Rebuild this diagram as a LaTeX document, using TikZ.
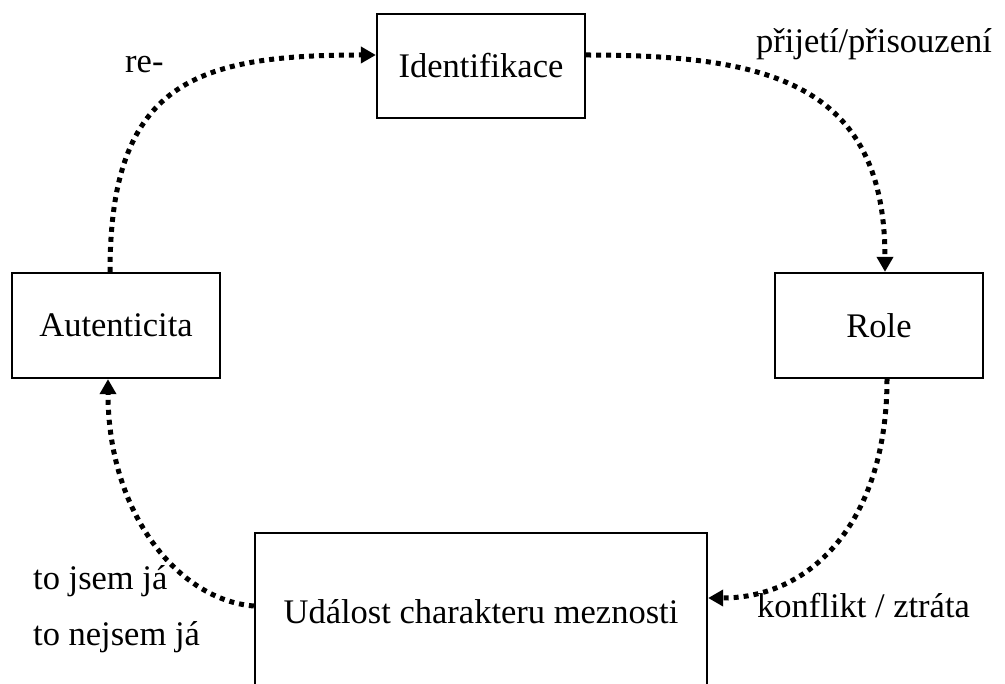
\documentclass[tikz,border=0pt]{standalone}
\usepackage{fontspec}
\setmainfont{Liberation Serif}
\usetikzlibrary{arrows.meta}
\tikzset{
  box/.style={draw, line width=2.3pt, inner sep=0pt, align=center, font=\fontsize{34.5}{40}\selectfont},
  lbl/.style={anchor=base west, inner sep=0pt, font=\fontsize{34.5}{40}\selectfont},
  flow/.style={line width=5pt, dash pattern=on 5pt off 5pt, line cap=butt,
    -{Triangle[width=16pt,length=15pt]}},
}
\begin{document}
\begin{tikzpicture}[x=1pt,y=-1pt]
\useasboundingbox (0,0) rectangle (1005,684);
\clip (0,0) rectangle (1005,684);
\node[box, minimum width=208pt, minimum height=104pt] (ident) at (481,66) {Identifikace};
\node[box, minimum width=208pt, minimum height=105pt] (aut) at (116,325.5) {Autenticita};
\node[box, minimum width=208pt, minimum height=105pt] (role) at (879,325.5) {Role};
\node[box, minimum width=452pt, minimum height=158pt] (event) at (481,612) {Událost charakteru meznosti};

\draw[flow] ([xshift=-6pt]aut.north) .. controls +(0,-190) and +(-180,0) .. ([yshift=11pt]ident.west);
\draw[flow] ([yshift=11pt]ident.east) .. controls +(180,0) and +(0,-190) .. ([xshift=6pt]role.north);
\draw[flow] ([xshift=8pt]role.south) .. controls +(0,140) and +(105,0) .. ([yshift=14pt]event.east);
\draw[flow] ([yshift=6pt]event.west) .. controls +(-75,-6) and +(0,135) .. ([xshift=-8pt]aut.south);

\node[lbl] (l1) at (125,73) {re-};
\node[lbl] (l2) at (756,53) {přijetí/přisouzení};
\node[lbl] (l3) at (33,590) {to jsem já};
\node[lbl] (l4) at (33,645) {to nejsem já};
\node[lbl] (l5) at (757,617) {konflikt / ztráta};
\end{tikzpicture}
\end{document}
